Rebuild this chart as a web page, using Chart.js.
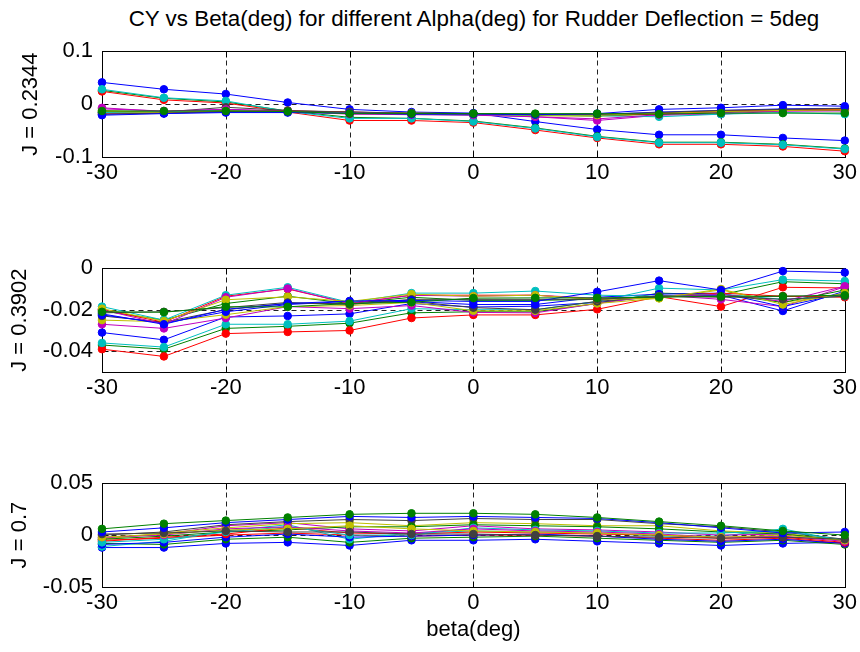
<!DOCTYPE html>
<html>
<head>
<meta charset="utf-8">
<title>CY vs Beta</title>
<script src="https://cdn.jsdelivr.net/npm/chart.js@4.4.0/dist/chart.umd.min.js"></script>
<style>
  html, body { margin: 0; padding: 0; background: #fff; }
  #fig { position: relative; width: 860px; height: 652px; font-family: Arial, "Liberation Sans", Helvetica, sans-serif; }
  .panel { position: absolute; left: 0; width: 860px; }
  #title { position: absolute; left: 102px; width: 744px; top: 6px; text-align: center; font-size: 22.4px; line-height: 26px; color: #000; white-space: nowrap; }
</style>
</head>
<body>
<div id="fig">
  <div id="title">CY vs Beta(deg) for different Alpha(deg) for Rudder Deflection = 5deg</div>
  <div class="panel" style="top:29px;height:160px"><canvas id="cy1"></canvas></div>
  <div class="panel" style="top:246px;height:158px"><canvas id="cy2"></canvas></div>
  <div class="panel" style="top:461px;height:184px"><canvas id="cy3"></canvas></div>
</div>
<script>
// sideslip angles (deg), shared by all three advance ratios
const betaDeg = [-30, -25, -20, -15, -10, -5, 0, 5, 10, 15, 20, 25, 30];
const betaTicks = [-30, -20, -10, 0, 10, 20, 30];

// CY per alpha case (16 cases), J = 0.2344
const cyJ1 = [
  [0.041, 0.028, 0.019, 0.003, -0.010, -0.015, -0.017, -0.033, -0.048, -0.058, -0.058, -0.064, -0.069],
  [0.026, 0.011, 0.004, -0.013, -0.025, -0.027, -0.032, -0.045, -0.061, -0.072, -0.072, -0.076, -0.084],
  [0.024, 0.008, 0.002, -0.015, -0.031, -0.031, -0.035, -0.049, -0.064, -0.076, -0.076, -0.080, -0.089],
  [0.028, 0.012, 0.006, -0.014, -0.027, -0.027, -0.033, -0.046, -0.062, -0.073, -0.073, -0.077, -0.085],
  [-0.007, -0.014, -0.010, -0.013, -0.018, -0.019, -0.020, -0.024, -0.031, -0.021, -0.019, -0.013, -0.012],
  [-0.012, -0.016, -0.012, -0.014, -0.016, -0.018, -0.019, -0.022, -0.023, -0.019, -0.015, -0.012, -0.011],
  [-0.016, -0.015, -0.006, -0.012, -0.015, -0.017, -0.018, -0.020, -0.020, -0.017, -0.013, -0.011, -0.009],
  [-0.019, -0.017, -0.015, -0.015, -0.017, -0.018, -0.019, -0.021, -0.020, -0.015, -0.012, -0.009, -0.008],
  [-0.015, -0.015, -0.012, -0.014, -0.016, -0.018, -0.019, -0.021, -0.022, -0.018, -0.014, -0.012, -0.012],
  [-0.017, -0.016, -0.012, -0.013, -0.015, -0.018, -0.020, -0.020, -0.021, -0.019, -0.013, -0.012, -0.010],
  [-0.016, -0.015, -0.011, -0.015, -0.017, -0.019, -0.021, -0.021, -0.022, -0.024, -0.019, -0.016, -0.019],
  [-0.009, -0.013, -0.010, -0.014, -0.019, -0.020, -0.021, -0.024, -0.028, -0.020, -0.016, -0.013, -0.013],
  [-0.014, -0.016, -0.013, -0.014, -0.016, -0.017, -0.019, -0.021, -0.021, -0.017, -0.014, -0.012, -0.011],
  [-0.019, -0.017, -0.014, -0.013, -0.015, -0.017, -0.018, -0.020, -0.019, -0.016, -0.012, -0.010, -0.008],
  [-0.021, -0.018, -0.016, -0.016, -0.017, -0.019, -0.019, -0.020, -0.018, -0.010, -0.007, -0.002, -0.004],
  [-0.013, -0.013, -0.013, -0.014, -0.018, -0.018, -0.018, -0.018, -0.018, -0.019, -0.017, -0.017, -0.017]
];

// CY per alpha case (16 cases), J = 0.3902
const cyJ2 = [
  [-0.031, -0.0345, -0.0235, -0.023, -0.022, -0.017, -0.0187, -0.0183, -0.0165, -0.0135, -0.013, -0.0206, -0.011],
  [-0.037, -0.039, -0.029, -0.028, -0.0265, -0.0215, -0.021, -0.021, -0.017, -0.012, -0.0128, -0.0065, -0.0075],
  [-0.039, -0.0425, -0.0315, -0.0307, -0.030, -0.024, -0.0225, -0.0225, -0.0198, -0.0137, -0.0185, -0.0092, -0.0095],
  [-0.036, -0.038, -0.027, -0.027, -0.0255, -0.0195, -0.020, -0.020, -0.016, -0.0096, -0.0105, -0.0055, -0.0062],
  [-0.027, -0.029, -0.024, -0.0185, -0.0195, -0.018, -0.0213, -0.0215, -0.017, -0.013, -0.015, -0.0185, -0.009],
  [-0.025, -0.0258, -0.0224, -0.0185, -0.018, -0.0165, -0.0205, -0.0205, -0.017, -0.0145, -0.0105, -0.0165, -0.0125],
  [-0.023, -0.026, -0.020, -0.017, -0.017, -0.016, -0.019, -0.020, -0.016, -0.0135, -0.014, -0.0135, -0.0135],
  [-0.0225, -0.0265, -0.021, -0.0175, -0.016, -0.016, -0.0175, -0.0175, -0.014, -0.0125, -0.012, -0.0185, -0.012],
  [-0.0205, -0.025, -0.017, -0.0135, -0.017, -0.014, -0.0155, -0.0155, -0.015, -0.0135, -0.0125, -0.0165, -0.0105],
  [-0.020, -0.026, -0.0135, -0.010, -0.017, -0.013, -0.013, -0.013, -0.015, -0.0135, -0.012, -0.0135, -0.014],
  [-0.0185, -0.025, -0.013, -0.0092, -0.0165, -0.012, -0.012, -0.011, -0.013, -0.0135, -0.0125, -0.015, -0.0135],
  [-0.020, -0.027, -0.014, -0.0098, -0.017, -0.013, -0.0135, -0.013, -0.0145, -0.014, -0.0125, -0.016, -0.0087],
  [-0.0195, -0.0255, -0.0152, -0.0138, -0.016, -0.0125, -0.0135, -0.013, -0.015, -0.0145, -0.010, -0.0175, -0.012],
  [-0.0215, -0.021, -0.019, -0.0165, -0.0175, -0.015, -0.015, -0.015, -0.015, -0.0135, -0.0135, -0.015, -0.0135],
  [-0.022, -0.027, -0.0198, -0.017, -0.0158, -0.0155, -0.016, -0.016, -0.0114, -0.006, -0.0105, -0.0014, -0.0021],
  [-0.021, -0.0212, -0.0186, -0.0186, -0.017, -0.0164, -0.0144, -0.0143, -0.0143, -0.014, -0.0135, -0.0135, -0.013]
];

// CY per alpha case (16 cases), J = 0.7
const cyJ3 = [
  [-0.012, -0.012, -0.008, -0.007, -0.010, -0.005, -0.005, -0.004, -0.006, -0.008, -0.010, -0.008, -0.007],
  [-0.008, -0.009, -0.004, -0.002, -0.007, -0.003, -0.002, -0.001, -0.003, -0.005, -0.007, -0.005, -0.009],
  [-0.005, -0.003, 0.000, 0.002, 0.000, -0.001, 0.000, 0.000, -0.001, -0.003, -0.005, -0.003, -0.008],
  [-0.011, -0.006, 0.004, 0.010, -0.004, 0.002, 0.004, 0.003, 0.002, -0.001, -0.001, 0.006, -0.006],
  [-0.003, 0.001, 0.009, 0.012, 0.006, 0.004, 0.009, 0.006, 0.005, 0.003, 0.000, 0.001, -0.005],
  [-0.004, 0.002, 0.007, 0.011, 0.012, 0.009, 0.012, 0.011, 0.009, 0.009, 0.004, 0.002, -0.006],
  [0.000, 0.003, 0.010, 0.013, 0.015, 0.014, 0.016, 0.015, 0.015, 0.011, 0.008, 0.003, -0.004],
  [-0.009, -0.007, -0.002, 0.001, -0.002, -0.001, 0.000, 0.001, -0.001, -0.004, -0.006, -0.004, -0.008],
  [-0.004, -0.001, 0.003, 0.005, 0.008, 0.008, 0.010, 0.009, 0.008, 0.006, 0.003, 0.001, -0.005],
  [-0.006, -0.002, 0.001, 0.007, 0.002, 0.001, 0.003, 0.002, 0.001, 0.000, -0.003, -0.002, -0.007],
  [-0.007, -0.004, 0.003, 0.008, 0.000, 0.000, 0.007, 0.005, 0.004, 0.002, 0.002, 0.004, -0.005],
  [-0.002, 0.000, 0.006, 0.008, 0.004, 0.002, 0.006, 0.004, 0.003, 0.001, -0.002, -0.001, -0.006],
  [-0.002, 0.001, 0.005, 0.006, 0.009, 0.006, 0.004, 0.003, 0.002, 0.000, -0.002, 0.000, -0.005],
  [0.001, 0.002, 0.004, 0.003, 0.003, 0.001, 0.001, 0.000, -0.001, -0.002, -0.003, -0.002, -0.004],
  [0.003, 0.007, 0.012, 0.015, 0.018, 0.017, 0.018, 0.017, 0.016, 0.012, 0.007, 0.002, 0.003],
  [0.006, 0.011, 0.014, 0.017, 0.020, 0.021, 0.021, 0.020, 0.017, 0.013, 0.009, 0.004, 0.000]
];

const yTicksJ1 = [-0.1, 0, 0.1];
const yTicksJ2 = [-0.04, -0.02, 0];
const yTicksJ3 = [-0.05, 0, 0.05];

// classic colour order: b g r c m y k
const lineColors = ['#0000ff', '#008000', '#ff0000', '#00bfbf', '#bf00bf', '#bfbf00', '#404040'];
const FONT = 'Arial, "Liberation Sans", Helvetica, sans-serif';

Chart.defaults.font.family = FONT;
Chart.defaults.font.size = 22;
Chart.defaults.color = '#000';

// dashed grid, box and inward tick marks, drawn under the lines
const axesBox = {
  id: 'axesBox',
  beforeDatasetsDraw(chart) {
    const {ctx, chartArea: a, scales: {x, y}} = chart;
    const L = Math.round(a.left) + 0.5, R = Math.round(a.right) + 0.5;
    const T = Math.round(a.top) + 0.5, B = Math.round(a.bottom) + 0.5;
    const tl = 6;
    ctx.save();
    ctx.lineWidth = 1;
    ctx.strokeStyle = '#222';
    ctx.setLineDash([5, 4]);
    x.ticks.forEach(t => {
      const px = Math.round(x.getPixelForValue(t.value)) + 0.5;
      if (px > L + 1 && px < R - 1) {
        ctx.beginPath(); ctx.moveTo(px, T); ctx.lineTo(px, B); ctx.stroke();
      }
    });
    y.ticks.forEach(t => {
      const py = Math.round(y.getPixelForValue(t.value)) + 0.5;
      if (py > T + 1 && py < B - 1) {
        ctx.beginPath(); ctx.moveTo(L, py); ctx.lineTo(R, py); ctx.stroke();
      }
    });
    ctx.setLineDash([]);
    ctx.strokeStyle = '#000';
    ctx.strokeRect(L, T, R - L, B - T);
    ctx.beginPath();
    x.ticks.forEach(t => {
      const px = Math.round(x.getPixelForValue(t.value)) + 0.5;
      ctx.moveTo(px, B); ctx.lineTo(px, B - tl);
      ctx.moveTo(px, T); ctx.lineTo(px, T + tl);
    });
    y.ticks.forEach(t => {
      const py = Math.round(y.getPixelForValue(t.value)) + 0.5;
      ctx.moveTo(L, py); ctx.lineTo(L + tl, py);
      ctx.moveTo(R, py); ctx.lineTo(R - tl, py);
    });
    ctx.stroke();
    ctx.restore();
  }
};

function fmtTick(v) {
  return String(+Number(v).toFixed(4));
}

function makePanel(canvasId, series, yMin, yMax, yTicks, yLabel, yLabelPad, xAxisHeight, xTitle) {
  const ctx = document.getElementById(canvasId);
  return new Chart(ctx, {
    type: 'line',
    data: {
      datasets: series.map((vals, i) => ({
        label: 'alpha case ' + (i + 1),
        data: betaDeg.map((b, k) => ({x: b, y: vals[k]})),
        borderColor: lineColors[i % lineColors.length],
        backgroundColor: lineColors[i % lineColors.length],
        borderWidth: 1,
        pointRadius: 3.8,
        pointBorderWidth: 1,
        pointHoverRadius: 3.8,
        tension: 0,
        clip: false,
        order: series.length - i
      }))
    },
    options: {
      responsive: true,
      maintainAspectRatio: false,
      animation: false,
      devicePixelRatio: 1,
      layout: { padding: { top: 16, right: 14, left: 0, bottom: 0 } },
      plugins: {
        legend: { display: false },
        tooltip: { enabled: false },
        title: { display: false }
      },
      events: [],
      scales: {
        x: {
          type: 'linear',
          min: -30,
          max: 30,
          afterBuildTicks: s => { s.ticks = betaTicks.map(v => ({value: v})); },
          afterFit: s => { s.height = xAxisHeight; },
          grid: { display: false, drawTicks: false },
          border: { display: false },
          ticks: { padding: 3, maxRotation: 0, autoSkip: false, color: '#000', callback: fmtTick },
          title: xTitle
            ? { display: true, text: xTitle, color: '#000', padding: { top: 0, bottom: 2 } }
            : { display: false }
        },
        y: {
          type: 'linear',
          min: yMin,
          max: yMax,
          afterBuildTicks: s => { s.ticks = yTicks.map(v => ({value: v})); },
          afterFit: s => { s.width = 102; },
          grid: { display: false, drawTicks: false },
          border: { display: false },
          ticks: { padding: 9, color: '#000', callback: fmtTick },
          title: { display: true, text: yLabel, color: '#000', padding: { top: yLabelPad, bottom: 0 } }
        }
      }
    },
    plugins: [axesBox]
  });
}

makePanel('cy1', cyJ1, -0.1, 0.1, yTicksJ1, 'J = 0.2344', 18, 32, null);
makePanel('cy2', cyJ2, -0.05, 0, yTicksJ2, 'J = 0.3902', 7, 32, null);
makePanel('cy3', cyJ3, -0.05, 0.05, yTicksJ3, 'J = 0.7', 7, 58, 'beta(deg)');
</script>
</body>
</html>
